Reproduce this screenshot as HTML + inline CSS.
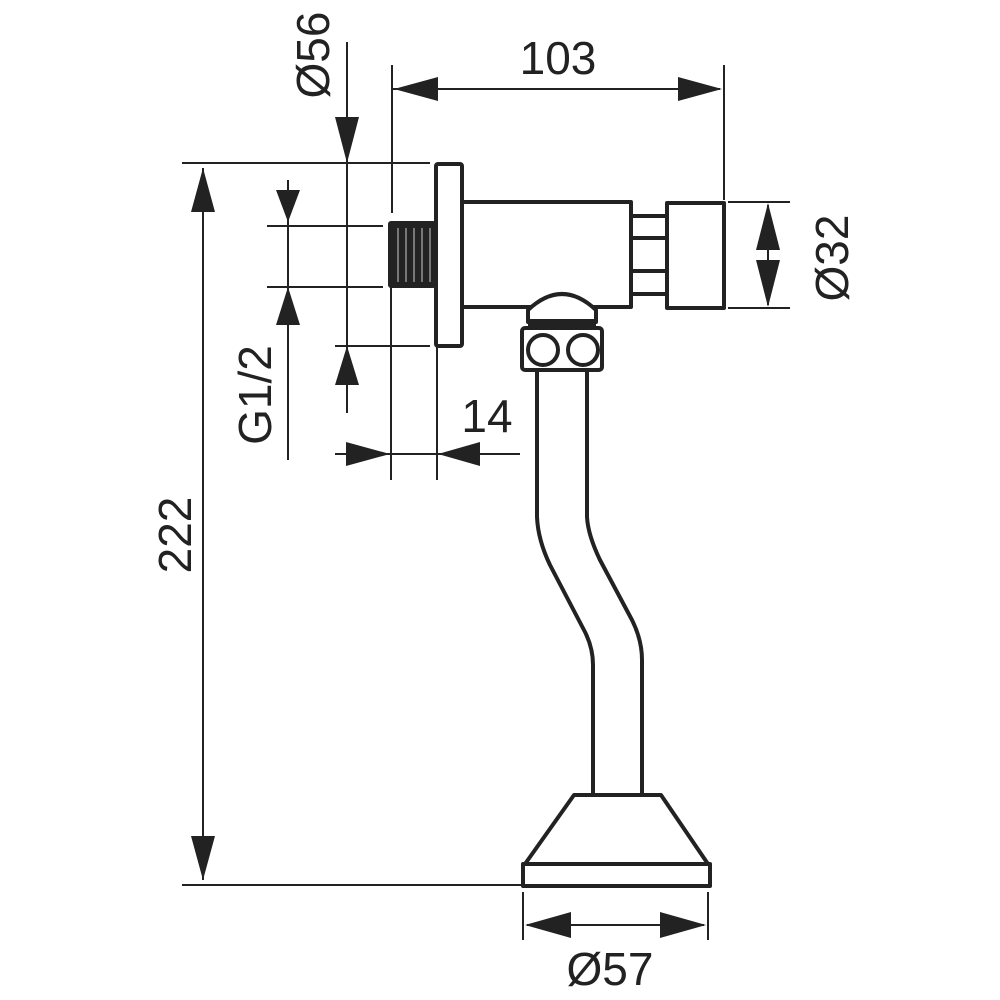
<!DOCTYPE html>
<html><head><style>html,body{margin:0;padding:0;background:#fff}svg{display:block}text{font-family:"Liberation Sans",sans-serif;font-size:46px;fill:#222}</style></head><body>
<svg width="1000" height="1000" viewBox="0 0 1000 1000" xmlns="http://www.w3.org/2000/svg">
<g stroke="#222" stroke-width="2" fill="none">
<!-- extension lines -->
<line x1="182" y1="163" x2="430" y2="163"/>
<line x1="182" y1="885" x2="523" y2="885"/>
<line x1="392" y1="65" x2="392" y2="213"/>
<line x1="724" y1="65" x2="724" y2="200"/>
<line x1="267" y1="226" x2="383" y2="226"/>
<line x1="267" y1="287" x2="383" y2="287"/>
<line x1="335" y1="346" x2="430" y2="346"/>
<line x1="391" y1="287" x2="391" y2="480"/>
<line x1="437" y1="346" x2="437" y2="480"/>
<line x1="728" y1="202" x2="790" y2="202"/>
<line x1="728" y1="308" x2="790" y2="308"/>
<line x1="523" y1="892" x2="523" y2="940"/>
<line x1="708" y1="892" x2="708" y2="940"/>
<!-- dim lines -->
<line x1="203" y1="168" x2="203" y2="880"/>
<line x1="392" y1="89" x2="720" y2="89"/>
<line x1="347" y1="42" x2="347" y2="413"/>
<line x1="288" y1="180" x2="288" y2="460"/>
<line x1="335" y1="454" x2="520" y2="454"/>
<line x1="768" y1="205" x2="768" y2="305"/>
<line x1="527" y1="925" x2="704" y2="925"/>
</g>
<g fill="#222">
<polygon points="203,168 191,212 215,212"/>
<polygon points="203,880 191,836 215,836"/>
<polygon points="394,89 438,77 438,101"/>
<polygon points="722,89 678,77 678,101"/>
<polygon points="347,163 335,117 359,117"/>
<polygon points="347,346 335,385 359,385"/>
<polygon points="288,222 276,190 300,190"/>
<polygon points="288,287 276,325 300,325"/>
<polygon points="390,454 346,442 346,466"/>
<polygon points="438,454 480,442 480,466"/>
<polygon points="768,203 756,250 780,250"/>
<polygon points="768,307 756,260 780,260"/>
<polygon points="525,925 571,912 571,938"/>
<polygon points="706,925 660,912 660,938"/>
<!-- thread -->
<rect x="388" y="221" width="48" height="67" rx="3"/>
</g>
<g stroke="#ccc" stroke-width="1">
<line x1="398" y1="228" x2="398" y2="282"/><line x1="406" y1="228" x2="406" y2="282"/><line x1="414" y1="228" x2="414" y2="282"/><line x1="422" y1="228" x2="422" y2="282"/><line x1="430" y1="228" x2="430" y2="282"/>
</g>
<g stroke="#222" stroke-width="4" fill="#fff" stroke-linejoin="round">
<rect x="436" y="164" width="26" height="182" rx="2"/>
<rect x="462" y="202" width="169" height="105"/>
<line x1="631" y1="216" x2="667" y2="216"/><line x1="631" y1="238" x2="667" y2="238"/>
<line x1="631" y1="271" x2="667" y2="271"/><line x1="631" y1="294" x2="667" y2="294"/>
<rect x="667" y="203" width="57" height="105"/>
<path d="M528,322 L528,310 Q562,278 596,310 L596,322 Z"/>
<rect x="522" y="328" width="80" height="42" rx="3"/>
<circle cx="543" cy="350" r="15"/>
<circle cx="583" cy="350" r="15"/>
<path d="M537,370 L537,517 Q538,540 550,565 L585,632 Q593,648 593,665 L593,795" fill="none"/>
<path d="M587,370 L587,517 Q588,535 600,560 L632,620 Q642,640 642,660 L642,795" fill="none"/>
<path d="M574,795 L661,795 L708,864 L525,864 Z"/>
<rect x="523" y="864" width="187" height="22"/>
</g>
<rect x="528" y="319" width="68" height="7" fill="#222"/>
<text x="558" y="74" text-anchor="middle">103</text>
<text x="610" y="985" text-anchor="middle">Ø57</text>
<text x="487" y="432" text-anchor="middle">14</text>
<text transform="translate(329,55) rotate(-90)" text-anchor="middle">Ø56</text>
<text transform="translate(271,395) rotate(-90)" text-anchor="middle">G1/2</text>
<text transform="translate(191,535) rotate(-90)" text-anchor="middle">222</text>
<text transform="translate(848,258) rotate(-90)" text-anchor="middle">Ø32</text>
</svg>
</body></html>
